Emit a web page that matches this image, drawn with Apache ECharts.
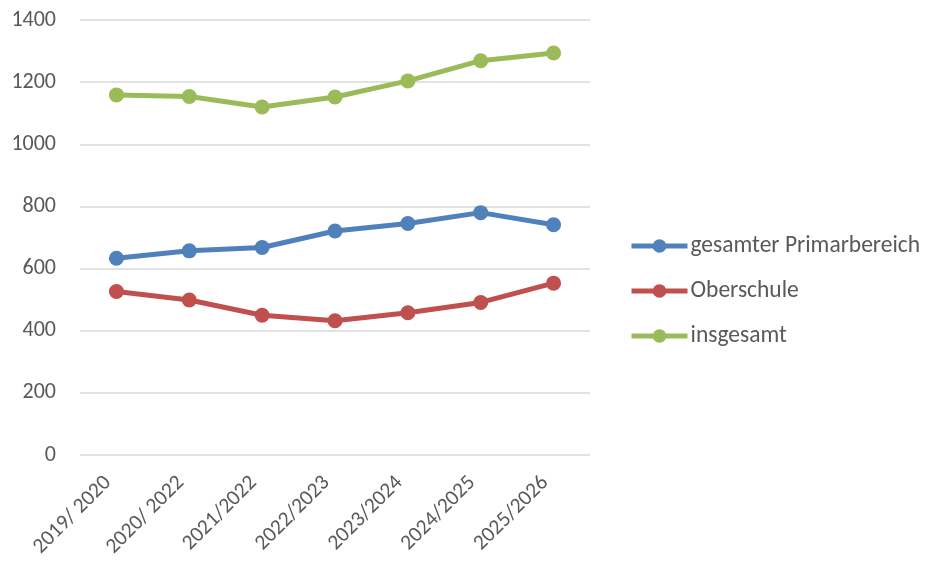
<!DOCTYPE html>
<html>
<head>
<meta charset="utf-8">
<script src="https://cdn.jsdelivr.net/npm/echarts@6/dist/echarts.min.js"></script>
<style>html,body{margin:0;padding:0;background:#fff;}#c{width:928px;height:572px;}</style>
</head>
<body>
<div id="c"></div>
<script>
const categories = ["2019/ 2020", "2020/ 2022", "2021/2022", "2022/2023", "2023/2024", "2024/2025", "2025/2026"];
const primarbereich = [633, 657, 668, 721, 745, 780, 741];
const oberschule = [526, 499, 450, 432, 458, 491, 553];
const insgesamt = [1159, 1154, 1120, 1152, 1204, 1269, 1294];
const seriesNames = ["gesamter Primarbereich", "Oberschule", "insgesamt"];
const colors = ["#4F81BD", "#C0504D", "#9BBB59"];

const font = "Calibri, Carlito, 'Open Sans', 'Noto Sans', sans-serif";
const chart = echarts.init(document.getElementById('c'), null, {renderer: 'canvas'});
function mk(name, data, color) {
  return {
    name: name, type: 'line', data: data,
    symbol: 'circle', symbolSize: 15,
    lineStyle: {width: 5, color: color},
    itemStyle: {color: color},
    animation: false
  };
}
chart.setOption({
  animation: false,
  color: colors,
  grid: {left: 80, right: 338, top: 20, bottom: 117, containLabel: false},
  legend: {
    orient: 'vertical', left: 624, top: 229, itemGap: 21,
    itemWidth: 56, itemHeight: 17,
    lineStyle: {width: 5},
    textStyle: {fontSize: 23.5, color: '#595959', fontFamily: font, padding: [0,0,0,-2]},
    data: seriesNames
  },
  xAxis: {
    type: 'category', data: categories, boundaryGap: true,
    axisLine: {show: false}, axisTick: {show: false},
    axisLabel: {rotate: 45, fontSize: 21.5, color: '#595959', fontFamily: font, margin: 16, padding: [0, 12, 0, 0], interval: 0}
  },
  yAxis: {
    type: 'value', min: 0, max: 1400, interval: 200,
    axisLine: {show: false}, axisTick: {show: false},
    splitLine: {lineStyle: {color: '#D9D9D9', width: 1.5}},
    axisLabel: {fontSize: 22, color: '#595959', fontFamily: font, margin: 24, formatter: function(v){ return String(v); }}
  },
  series: [
    mk(seriesNames[0], primarbereich, colors[0]),
    mk(seriesNames[1], oberschule, colors[1]),
    mk(seriesNames[2], insgesamt, colors[2])
  ]
});
</script>
</body>
</html>
